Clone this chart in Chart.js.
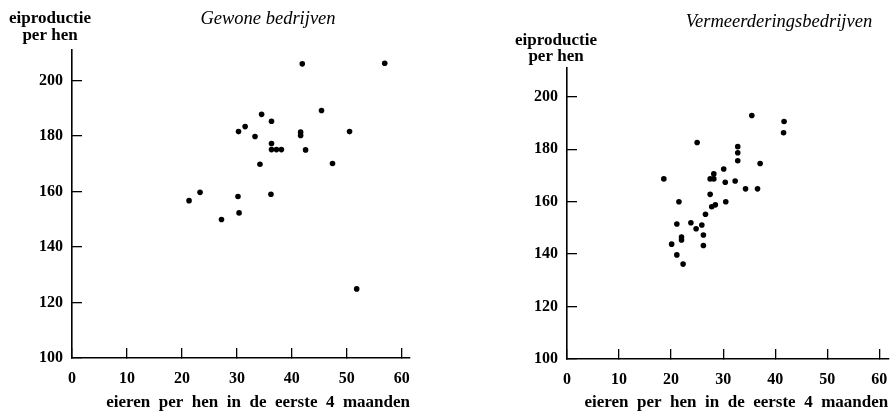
<!DOCTYPE html>
<html>
<head>
<meta charset="utf-8">
<script src="https://cdn.jsdelivr.net/npm/chart.js@4/dist/chart.umd.min.js"></script>
<style>
html, body { margin: 0; padding: 0; background: #fff; overflow: hidden; }
#wrap { position: relative; width: 891px; height: 411px; }
canvas { display: block; position: absolute; top: 0; }
</style>
</head>
<body>
<div id="wrap">
	<canvas id="c1" width="445" height="411" style="left:0;width:445px;height:411px"></canvas>
	<canvas id="c2" width="446" height="411" style="left:445px;width:446px;height:411px"></canvas>
</div>
<script>
// tick labels
const xTicks = [0, 10, 20, 30, 40, 50, 60];
const yTicks = [100, 120, 140, 160, 180, 200];

// Gewone bedrijven
const gewoneX = [41.9, 56.9, 45.4, 34.5, 36.3, 31.5, 30.3, 33.3, 41.6, 41.6, 50.5, 36.3, 36.3, 37.2, 38.1, 42.5, 34.2, 47.4, 23.3, 21.3, 30.2, 36.2, 27.2, 30.4, 51.8];
const gewoneY = [206, 206.2, 189.2, 187.8, 185.3, 183.4, 181.6, 179.8, 181.4, 180.2, 181.6, 177.3, 175.1, 175.1, 175.1, 175, 169.8, 170.1, 159.7, 156.7, 158.2, 159, 149.9, 152.3, 124.9];

// Vermeerderingsbedrijven
const vermX = [35.5, 41.7, 41.6, 25.0, 32.8, 32.8, 32.8, 37.1, 30.1, 18.6, 28.2, 27.5, 28.2, 30.4, 32.3, 34.3, 36.6, 27.5, 21.5, 30.5, 27.8, 28.5, 21.1, 23.8, 25.9, 24.8, 26.6, 22.0, 22.0, 20.1, 26.2, 26.2, 21.1, 22.3];
const vermY = [192.9, 190.6, 186.3, 182.6, 181.0, 178.7, 175.6, 174.6, 172.5, 168.7, 170.6, 168.7, 168.7, 167.4, 167.9, 164.9, 164.9, 162.8, 160.0, 160.0, 158.1, 158.8, 151.5, 152.0, 151.1, 149.7, 155.2, 145.4, 146.5, 143.8, 147.3, 143.3, 139.7, 136.2];

const xTitle = 'eieren  per  hen  in  de  eerste  4  maanden';
const serif = "'Liberation Serif', 'DejaVu Serif', serif";

// free text (axis label above the y axis, chart title)
const textPlugin = {
	id: 'texts',
	afterDraw(chart, args, opts) {
		let ctx = chart.ctx;
		ctx.save();
		ctx.fillStyle = '#000';
		ctx.textBaseline = 'middle';
		(opts.items || []).forEach(t => {
			ctx.font = t.font;
			ctx.textAlign = t.align || 'center';
			ctx.fillText(t.text, t.x, t.y);
		});
		ctx.restore();
	}
};

function makeChart(id, xs, ys, cfg) {
	let points = xs.map((x, i) => ({ x: x, y: ys[i] }));
	return new Chart(document.getElementById(id), {
		type: 'scatter',
		data: {
			datasets: [{
				data: points,
				backgroundColor: '#000',
				borderWidth: 0,
				pointRadius: 2.8,
				pointHoverRadius: 2.8
			}]
		},
		options: {
			responsive: false,
			animation: false,
			layout: { padding: cfg.padding },
			plugins: {
				legend: { display: false },
				tooltip: { enabled: false },
				texts: { items: cfg.texts }
			},
			scales: {
				x: {
					type: 'linear',
					min: 0,
					max: cfg.xMax,
					afterBuildTicks: s => { s.ticks = xTicks.map(v => ({ value: v })); },
					afterFit: s => {
						s.height = cfg.xHeight;
						s.paddingLeft = 0;
						s.paddingRight = 0;
					},
					grid: { drawOnChartArea: false, drawTicks: true, tickLength: -10, color: '#000', lineWidth: 1.3 },
					border: { display: true, color: '#000', width: 1.6 },
					ticks: { color: '#000', padding: 21, font: { family: serif, size: 16, weight: 'bold' } },
					title: {
						display: true,
						text: xTitle,
						align: 'end',
						color: '#000',
						padding: { top: 0, bottom: 0 },
						font: { family: serif, size: 17, weight: 'bold', lineHeight: 1 }
					}
				},
				y: {
					type: 'linear',
					min: 100,
					max: 211,
					afterBuildTicks: s => { s.ticks = yTicks.map(v => ({ value: v })); },
					afterFit: s => {
						s.width = cfg.yWidth;
						s.paddingTop = 0;
						s.paddingBottom = 0;
					},
					grid: { drawOnChartArea: false, drawTicks: true, tickLength: -10, color: '#000', lineWidth: 1.3 },
					border: { display: true, color: '#000', width: 1.6 },
					ticks: { color: '#000', padding: 19, font: { family: serif, size: 16, weight: 'bold' } }
				}
			}
		},
		plugins: [textPlugin]
	});
}

makeChart('c1', gewoneX, gewoneY, {
	padding: { left: 0, top: 50, right: 35, bottom: 0 },
	xMax: 61.5,
	xHeight: 53,
	yWidth: 72,
	texts: [
		{ text: 'eiproductie', x: 50, y: 19, font: 'bold 17px ' + serif },
		{ text: 'per hen', x: 50, y: 36, font: 'bold 17px ' + serif },
		{ text: 'Gewone bedrijven', x: 268, y: 19, font: 'italic 18.5px ' + serif }
	]
});

makeChart('c2', vermX, vermY, {
	padding: { left: 0, top: 68, right: 1, bottom: 0 },
	xMax: 61.7,
	xHeight: 52,
	yWidth: 122,
	texts: [
		{ text: 'eiproductie', x: 111, y: 41, font: 'bold 17px ' + serif },
		{ text: 'per hen', x: 111, y: 57, font: 'bold 17px ' + serif },
		{ text: 'Vermeerderingsbedrijven', x: 334, y: 22, font: 'italic 18.5px ' + serif }
	]
});
</script>
</body>
</html>
